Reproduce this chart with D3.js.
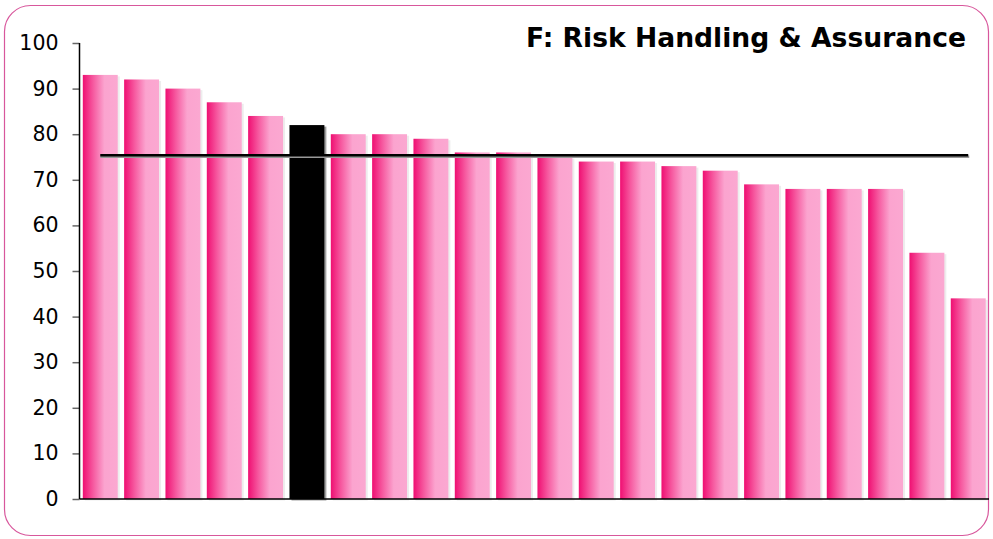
<!DOCTYPE html>
<html>
<head>
<meta charset="utf-8">
<script src="https://cdn.jsdelivr.net/npm/d3@7"></script>
<style>
  html, body { margin: 0; padding: 0; background: #fff; }
  svg { display: block; font-family: "DejaVu Sans", Verdana, sans-serif; }
</style>
</head>
<body>
<svg id="chart" width="993" height="539"></svg>
<script>
// Scores per organisation, sorted high to low
const categories = ["O1","O2","O3","O4","O5","O6","O7","O8","O9","O10","O11",
                    "O12","O13","O14","O15","O16","O17","O18","O19","O20","O21","O22"];
const scores = [93, 92, 90, 87, 84, 82, 80, 80, 79, 76, 76,
                75, 74, 74, 73, 72, 69, 68, 68, 68, 54, 44];
const highlighted = ["O6"];          // drawn in black
const averageScore = 75.4;           // benchmark line
const yTicks = [0, 10, 20, 30, 40, 50, 60, 70, 80, 90, 100];
const title = "F: Risk Handling & Assurance";

const svg = d3.select("#chart");
const W = 993, H = 539;

// Rounded outer frame
svg.append("rect")
  .attr("x", 4.5).attr("y", 5.5)
  .attr("width", W - 9).attr("height", H - 9)
  .attr("rx", 26).attr("ry", 26)
  .attr("fill", "#fff")
  .attr("stroke", "#d8579c")
  .attr("stroke-width", 1.2);

const plot = { left: 79.5, right: 989, top: 43, bottom: 499 };

const x = d3.scaleBand()
  .domain(categories)
  .range([plot.left, plot.right])
  .paddingInner(0.155)
  .paddingOuter(0.08);

const y = d3.scaleLinear()
  .domain([0, 100])
  .range([plot.bottom, plot.top]);

// Bar gradient: deep pink on the left fading to pale pink
const defs = svg.append("defs");
const grad = defs.append("linearGradient")
  .attr("id", "barGrad")
  .attr("x1", "0%").attr("x2", "100%").attr("y1", "0%").attr("y2", "0%");
grad.append("stop").attr("offset", "0%").attr("stop-color", "#ef0f72");
grad.append("stop").attr("offset", "30%").attr("stop-color", "#f65aa0");
grad.append("stop").attr("offset", "62%").attr("stop-color", "#fba4cf");
grad.append("stop").attr("offset", "100%").attr("stop-color", "#fba8d1");

const data = categories.map((c, i) => ({ cat: c, value: scores[i] }));

// Drop shadows
svg.append("g")
  .selectAll("rect")
  .data(data)
  .join("rect")
  .attr("x", d => x(d.cat) + 2)
  .attr("y", d => y(d.value) + 1.5)
  .attr("width", x.bandwidth())
  .attr("height", d => y(0) - y(d.value))
  .attr("fill", "#888")
  .attr("opacity", d => highlighted.includes(d.cat) ? 0.8 : 0.15);

// Bars
svg.append("g")
  .selectAll("rect")
  .data(data)
  .join("rect")
  .attr("x", d => x(d.cat))
  .attr("y", d => y(d.value))
  .attr("width", x.bandwidth())
  .attr("height", d => y(0) - y(d.value))
  .attr("fill", d => highlighted.includes(d.cat) ? "#000" : "url(#barGrad)");

// Y axis
const yAxis = d3.axisLeft(y)
  .tickValues(yTicks)
  .tickSize(7)
  .tickPadding(14)
  .tickFormat(d3.format("d"));

const gy = svg.append("g")
  .attr("transform", `translate(${plot.left},0)`)
  .call(yAxis);
gy.select(".domain").remove();
gy.selectAll(".tick line").attr("stroke", "#666").attr("stroke-width", 1.5);
gy.selectAll(".tick text")
  .attr("font-family", "DejaVu Sans, Verdana, sans-serif")
  .attr("font-size", 20.5)
  .attr("fill", "#000");
svg.append("line")
  .attr("x1", plot.left).attr("x2", plot.left)
  .attr("y1", plot.top).attr("y2", plot.bottom)
  .attr("stroke", "#000").attr("stroke-width", 1.5);

// X axis baseline
svg.append("line")
  .attr("x1", plot.left).attr("x2", plot.right)
  .attr("y1", y(0)).attr("y2", y(0))
  .attr("stroke", "#000").attr("stroke-width", 1.5);

// Average line from first to last bar centre
const xFirst = x(categories[0]) + x.bandwidth() / 2;
const xLast = x(categories[categories.length - 1]) + x.bandwidth() / 2;
svg.append("line")
  .attr("x1", xFirst).attr("x2", xLast + 1)
  .attr("y1", y(averageScore) + 1.5).attr("y2", y(averageScore) + 1.5)
  .attr("stroke", "#999").attr("stroke-width", 2.5);
svg.append("line")
  .attr("x1", xFirst).attr("x2", xLast)
  .attr("y1", y(averageScore)).attr("y2", y(averageScore))
  .attr("stroke", "#000").attr("stroke-width", 2.5);

// Title
svg.append("text")
  .attr("x", 966).attr("y", 47)
  .attr("text-anchor", "end")
  .attr("font-family", "DejaVu Sans, Verdana, sans-serif")
  .attr("font-weight", "bold")
  .attr("font-size", 26.6)
  .attr("fill", "#000")
  .text(title);
</script>
</body>
</html>
